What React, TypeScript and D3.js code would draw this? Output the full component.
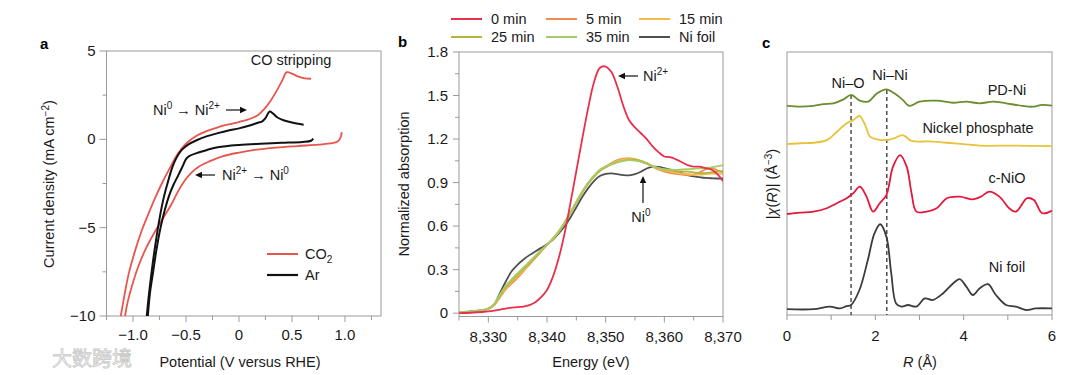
import React from "react";
import * as d3 from "d3";

// ---------------- Panel a: cyclic voltammetry ----------------
const co2Forward: [number, number][] = [
  [-1.115, -10], [-1.08, -8.8], [-1.04, -7.6], [-0.98, -6.3], [-0.92, -5.2], [-0.86, -4.3],
  [-0.79, -3.3], [-0.72, -2.4], [-0.65, -1.6], [-0.58, -0.85], [-0.5, -0.25], [-0.4, 0.2],
  [-0.3, 0.48], [-0.2, 0.68], [-0.1, 0.84], [0, 0.98], [0.1, 1.15], [0.18, 1.38], [0.24, 1.72],
  [0.3, 2.2], [0.36, 2.8], [0.41, 3.35], [0.45, 3.8], [0.5, 3.72], [0.56, 3.55], [0.62, 3.45], [0.68, 3.43],
];
const co2Reverse: [number, number][] = [
  [0.97, 0.4], [0.955, 0.05], [0.93, -0.12], [0.88, -0.22], [0.75, -0.3], [0.55, -0.38], [0.35, -0.47],
  [0.15, -0.6], [0.0, -0.75], [-0.15, -0.95], [-0.28, -1.25], [-0.38, -1.55], [-0.46, -1.95],
  [-0.52, -2.4], [-0.58, -3.0], [-0.64, -3.7], [-0.72, -4.5], [-0.8, -5.3], [-0.88, -6.2],
  [-0.95, -7.2], [-1.01, -8.3], [-1.05, -9.2], [-1.075, -10],
];
const arForward: [number, number][] = [
  [-0.87, -10], [-0.85, -8.8], [-0.82, -7.3], [-0.79, -6.0], [-0.75, -4.5], [-0.71, -3.3],
  [-0.67, -2.4], [-0.63, -1.6], [-0.59, -1.05], [-0.54, -0.6], [-0.48, -0.3], [-0.4, -0.05],
  [-0.3, 0.18], [-0.2, 0.35], [-0.1, 0.5], [0.0, 0.62], [0.1, 0.78], [0.18, 0.94], [0.22, 1.02],
  [0.25, 1.2], [0.29, 1.58], [0.32, 1.47], [0.36, 1.25], [0.42, 1.08], [0.5, 0.95], [0.61, 0.83],
];
const arReverse: [number, number][] = [
  [0.7, 0.05], [0.68, -0.08], [0.6, -0.15], [0.4, -0.2], [0.2, -0.25], [0.0, -0.32], [-0.2, -0.45],
  [-0.3, -0.6], [-0.4, -0.78], [-0.47, -0.95], [-0.5, -1.12], [-0.53, -1.5], [-0.57, -2.0],
  [-0.62, -2.6], [-0.66, -3.2], [-0.7, -4.0], [-0.74, -5.0], [-0.78, -6.3], [-0.81, -7.5],
  [-0.84, -8.7], [-0.86, -10],
];
const aXTicks = [-1.0, -0.5, 0, 0.5, 1.0];
const aXTickLabels = ["\u22121.0", "\u22120.5", "0", "0.5", "1.0"];
const aXMinor = [-1.25, -0.75, -0.25, 0.25, 0.75, 1.25];
const aYTicks = [5, 0, -5, -10];
const aYTickLabels = ["5", "0", "\u22125", "\u221210"];
const aYMinor = [2.5, -2.5, -7.5];

// ---------------- Panel b: XANES ----------------
const energy = [
  8325, 8327, 8329, 8330, 8331, 8332, 8333, 8334, 8335, 8336, 8337, 8338, 8339, 8340, 8341, 8342,
  8343, 8344, 8345, 8346, 8347, 8348, 8349, 8350, 8351, 8352, 8353, 8354, 8355, 8356, 8357, 8358,
  8359, 8360, 8361, 8362, 8363, 8364, 8365, 8366, 8367, 8368, 8369, 8370,
];
const min0 = [
  0.0, 0.003, 0.008, 0.012, 0.018, 0.025, 0.032, 0.038, 0.042, 0.045, 0.055, 0.075, 0.11, 0.16, 0.25, 0.38,
  0.55, 0.76, 0.98, 1.2, 1.41, 1.59, 1.69, 1.7, 1.66, 1.56, 1.43, 1.33, 1.28, 1.24, 1.2, 1.15,
  1.11, 1.08, 1.075, 1.06, 1.04, 1.02, 1.01, 1.01, 1.0, 0.99, 0.96, 0.91,
];
const min5 = [
  0.004, 0.01, 0.02, 0.03, 0.055, 0.11, 0.165, 0.205, 0.245, 0.29, 0.335, 0.38, 0.425, 0.47, 0.515, 0.565,
  0.625, 0.695, 0.765, 0.835, 0.895, 0.945, 0.985, 1.01, 1.035, 1.055, 1.065, 1.065, 1.055, 1.045, 1.03, 1.01,
  0.99, 0.975, 0.965, 0.96, 0.955, 0.95, 0.955, 0.97, 0.99, 1.0, 0.985, 0.97,
];
const min15 = [
  0.005, 0.01, 0.02, 0.03, 0.058, 0.115, 0.17, 0.215, 0.255, 0.295, 0.34, 0.382, 0.428, 0.47, 0.512, 0.562,
  0.622, 0.692, 0.762, 0.832, 0.892, 0.942, 0.982, 1.008, 1.03, 1.048, 1.06, 1.068, 1.062, 1.05, 1.032, 1.012,
  0.995, 0.982, 0.975, 0.968, 0.962, 0.958, 0.955, 0.955, 0.958, 0.962, 0.962, 0.96,
];
const min25 = [
  0.005, 0.01, 0.02, 0.03, 0.06, 0.12, 0.18, 0.225, 0.265, 0.305, 0.345, 0.385, 0.43, 0.47, 0.51, 0.56,
  0.62, 0.69, 0.76, 0.83, 0.89, 0.94, 0.98, 1.005, 1.025, 1.04, 1.05, 1.06, 1.06, 1.05, 1.035, 1.015,
  1.0, 0.99, 0.985, 0.98, 0.975, 0.975, 0.97, 0.965, 0.965, 0.97, 0.975, 0.98,
];
const min35 = [
  0.006, 0.011, 0.022, 0.033, 0.065, 0.13, 0.19, 0.235, 0.275, 0.315, 0.355, 0.395, 0.435, 0.472, 0.512, 0.562,
  0.625, 0.695, 0.768, 0.838, 0.898, 0.948, 0.988, 1.012, 1.03, 1.042, 1.05, 1.055, 1.052, 1.045, 1.03, 1.012,
  1.0, 0.992, 0.99, 0.988, 0.99, 0.992, 0.995, 0.998, 1.0, 1.005, 1.012, 1.02,
];
const niFoilXanes = [
  0.008, 0.012, 0.02, 0.03, 0.06, 0.14, 0.22, 0.29, 0.335, 0.37, 0.4, 0.425, 0.45, 0.475, 0.505, 0.55,
  0.6, 0.66, 0.73, 0.8, 0.86, 0.91, 0.945, 0.96, 0.963, 0.958, 0.952, 0.95, 0.958, 0.975, 0.997, 1.008,
  1.008, 1.0, 0.99, 0.978, 0.965, 0.952, 0.943, 0.937, 0.932, 0.93, 0.928, 0.928,
];
const bSeriesNames = ["0 min", "5 min", "15 min", "25 min", "35 min", "Ni foil"];
const bSeriesValues = [min0, min5, min15, min25, min35, niFoilXanes];
const bColors = ["#e8304a", "#f08a4e", "#f4bb4c", "#b5b53e", "#a6cb68", "#4f4f4f"];
const bXTicks = [8330, 8340, 8350, 8360, 8370];
const bXTickLabels = ["8,330", "8,340", "8,350", "8,360", "8,370"];
const bXMinor = [8325, 8335, 8345, 8355, 8365];
const bYTicks = [0, 0.3, 0.6, 0.9, 1.2, 1.5, 1.8];
const bYTickLabels = ["0", "0.3", "0.6", "0.9", "1.2", "1.5", "1.8"];
const bYMinor = [0.15, 0.45, 0.75, 1.05, 1.35, 1.65];

// ---------------- Panel c: EXAFS (offset stacked) ----------------
const pdNi: [number, number][] = [
  [0, 7.95], [0.3, 7.92], [0.6, 7.95], [0.83, 8.02], [1.05, 8.05], [1.28, 8.2], [1.45, 8.37],
  [1.65, 8.15], [1.83, 8.11], [2.04, 8.43], [2.25, 8.58], [2.43, 8.43], [2.62, 8.18], [2.77, 7.95],
  [3.0, 8.11], [3.39, 8.15], [3.76, 8.07], [4.06, 8.11], [4.36, 8.05], [4.66, 8.11], [4.96, 8.05],
  [5.33, 7.95], [5.56, 7.92], [5.78, 7.99], [6.0, 7.96],
];
const nickelPhosphate: [number, number][] = [
  [0, 6.5], [0.3, 6.53], [0.6, 6.55], [0.9, 6.65], [1.13, 6.97], [1.35, 7.29], [1.5, 7.41],
  [1.64, 7.57], [1.77, 7.22], [1.88, 6.78], [2.04, 6.68], [2.25, 6.65], [2.43, 6.72], [2.62, 6.84],
  [2.82, 6.62], [3.23, 6.6], [3.62, 6.55], [3.99, 6.5], [4.36, 6.44], [5.1, 6.44], [6.0, 6.42],
];
const cNiO: [number, number][] = [
  [0, 3.84], [0.3, 3.89], [0.6, 3.93], [0.9, 4.06], [1.13, 4.25], [1.35, 4.44], [1.5, 4.63],
  [1.65, 4.88], [1.8, 4.5], [1.95, 3.93], [2.1, 4.25], [2.25, 4.56], [2.4, 5.64], [2.56, 6.08],
  [2.71, 5.64], [2.82, 4.63], [2.93, 3.93], [3.16, 3.93], [3.39, 4.06], [3.62, 4.44], [3.91, 4.5],
  [4.21, 4.4], [4.39, 4.5], [4.58, 4.69], [4.81, 4.5], [5.03, 4.06], [5.18, 3.93], [5.44, 4.44],
  [5.59, 4.37], [5.78, 3.87], [6.0, 3.97],
];
const niFoilExafs: [number, number][] = [
  [0, 0.22], [0.6, 0.22], [0.97, 0.32], [1.2, 0.25], [1.35, 0.34], [1.45, 0.38], [1.64, 0.95],
  [1.83, 2.09], [1.98, 3.1], [2.11, 3.45], [2.25, 2.98], [2.36, 1.59], [2.47, 0.44], [2.59, 0.32],
  [2.74, 0.38], [2.93, 0.32], [3.12, 0.63], [3.3, 0.57], [3.53, 0.82], [3.76, 1.2], [3.91, 1.36],
  [4.06, 1.08], [4.21, 0.76], [4.36, 1.01], [4.55, 1.17], [4.73, 0.76], [4.96, 0.38], [5.18, 0.32],
  [5.41, 0.19], [5.63, 0.25], [6.0, 0.25],
];
const cSeries = [pdNi, nickelPhosphate, cNiO, niFoilExafs];
const cColors = ["#6a8d2e", "#e8c23a", "#e3183c", "#3c3c3c"];
const cLabels = ["PD-Ni", "Nickel phosphate", "c-NiO", "Ni foil"];
const cXTicks = [0, 1, 2, 3, 4, 5, 6];
const cXTickLabels = ["0", "", "2", "", "4", "", "6"];
const cDashR = [1.45, 2.26];

// ---------------- helpers ----------------
const FONT = "'Liberation Sans', Arial, Helvetica, sans-serif";
const AXIS = "#9a9a9a";
const TXT = "#1a1a1a";
const TICK_FS = 15;
const LAB_FS = 14.5;

function Arrow({ x1, y1, x2, y2 }: { x1: number; y1: number; x2: number; y2: number }) {
  // arrow head at (x2, y2)
  const ang = Math.atan2(y2 - y1, x2 - x1);
  const L = 7, W = 3.2;
  const bx = x2 - L * Math.cos(ang), by = y2 - L * Math.sin(ang);
  const px = -Math.sin(ang) * W, py = Math.cos(ang) * W;
  return (
    <g>
      <line x1={x1} y1={y1} x2={bx} y2={by} stroke="#111" strokeWidth={1.2} />
      <polygon points={`${x2},${y2} ${bx + px},${by + py} ${bx - px},${by - py}`} fill="#111" />
    </g>
  );
}

export default function App() {
  // Panel a scales
  const ax = d3.scaleLinear().domain([-1.25, 1.34]).range([106.5, 381]);
  const ay = d3.scaleLinear().domain([-10, 5]).range([316, 51]);
  const aLine = d3.line<[number, number]>().x((d) => ax(d[0])).y((d) => ay(d[1])).curve(d3.curveCatmullRom.alpha(0.5));

  // Panel b scales
  const bx = d3.scaleLinear().domain([8325, 8370]).range([459, 723]);
  const by = d3.scaleLinear().domain([-0.023, 1.8]).range([316.5, 52]);
  const bLine = d3.line<number>().x((_, i) => bx(energy[i])).y((d) => by(d)).curve(d3.curveCatmullRom.alpha(0.5));

  // Panel c scales
  const cx = d3.scaleLinear().domain([0, 6]).range([787, 1052]);
  const cy = d3.scaleLinear().domain([0, 10]).range([315, 52]);
  const cLine = d3.line<[number, number]>().x((d) => cx(d[0])).y((d) => cy(d[1])).curve(d3.curveCatmullRom.alpha(0.5));

  const bOrder = [5, 1, 2, 3, 4, 0];

  return (
    <svg width={1080} height={375} style={{ position: "absolute", left: 0, top: 0, background: "#fff" }} fontFamily={FONT}>
      <rect x={0} y={0} width={1080} height={375} fill="#fff" />

      {/* ============ Panel a ============ */}
      <text x={40} y={49} fontSize={15} fontWeight="bold" fill="#000">a</text>
      <rect x={ax.range()[0]} y={ay.range()[1]} width={ax.range()[1] - ax.range()[0]} height={ay.range()[0] - ay.range()[1]} fill="none" stroke={AXIS} strokeWidth={1} />
      {aYTicks.map((t, i) => (
        <g key={"ay" + t}>
          <line x1={ax.range()[0] - 7} x2={ax.range()[0]} y1={ay(t)} y2={ay(t)} stroke={AXIS} />
          <text x={ax.range()[0] - 11} y={ay(t) + 5} fontSize={TICK_FS} fill={TXT} textAnchor="end">{aYTickLabels[i]}</text>
        </g>
      ))}
      {aYMinor.map((t) => (
        <line key={"aym" + t} x1={ax.range()[0] - 4} x2={ax.range()[0]} y1={ay(t)} y2={ay(t)} stroke={AXIS} />
      ))}
      {aXTicks.map((t, i) => (
        <g key={"ax" + t}>
          <line x1={ax(t)} x2={ax(t)} y1={ay.range()[0]} y2={ay.range()[0] + 6} stroke={AXIS} />
          <text x={ax(t)} y={340} fontSize={TICK_FS} fill={TXT} textAnchor="middle">{aXTickLabels[i]}</text>
        </g>
      ))}
      {aXMinor.map((t) => (
        <line key={"axm" + t} x1={ax(t)} x2={ax(t)} y1={ay.range()[0]} y2={ay.range()[0] + 4} stroke={AXIS} />
      ))}
      <text x={240} y={367} fontSize={LAB_FS} fill={TXT} textAnchor="middle">Potential (V versus RHE)</text>
      <text transform="translate(54,184) rotate(-90)" fontSize={LAB_FS} fill={TXT} textAnchor="middle">
        Current density (mA cm<tspan dy={-5} fontSize={10}>{"\u22122"}</tspan><tspan dy={5}>)</tspan>
      </text>
      <path d={aLine(co2Forward) || ""} fill="none" stroke="#e8554c" strokeWidth={1.8} />
      <path d={aLine(co2Reverse) || ""} fill="none" stroke="#e8554c" strokeWidth={1.8} />
      <path d={aLine(arForward) || ""} fill="none" stroke="#111" strokeWidth={2} />
      <path d={aLine(arReverse) || ""} fill="none" stroke="#111" strokeWidth={2} />
      <text x={291} y={65} fontSize={LAB_FS} fill={TXT} textAnchor="middle">CO stripping</text>
      <text x={153} y={115} fontSize={LAB_FS} fill={TXT}>
        Ni<tspan dy={-6} fontSize={10}>0</tspan><tspan dy={6}>{" \u2192 Ni"}</tspan><tspan dy={-6} fontSize={10}>2+</tspan>
      </text>
      <Arrow x1={226} y1={110} x2={247} y2={110} />
      <Arrow x1={215} y1={175} x2={195} y2={175} />
      <text x={222} y={180} fontSize={LAB_FS} fill={TXT}>
        Ni<tspan dy={-6} fontSize={10}>2+</tspan><tspan dy={6}>{" \u2192 Ni"}</tspan><tspan dy={-6} fontSize={10}>0</tspan>
      </text>
      <line x1={267} x2={298} y1={254} y2={254} stroke="#e8554c" strokeWidth={2} />
      <text x={305} y={259} fontSize={LAB_FS} fill={TXT}>
        CO<tspan dy={4} fontSize={10}>2</tspan>
      </text>
      <line x1={267} x2={298} y1={275} y2={275} stroke="#111" strokeWidth={2.2} />
      <text x={305} y={280} fontSize={LAB_FS} fill={TXT}>Ar</text>

      {/* ============ Panel b ============ */}
      <text x={398} y={47} fontSize={15} fontWeight="bold" fill="#000">b</text>
      {bSeriesNames.map((n, i) => {
        const col = i % 3, row = Math.floor(i / 3);
        const lx = [451, 546, 639][col];
        const ly = [19, 37][row];
        return (
          <g key={"leg" + n}>
            <line x1={lx} x2={lx + 31} y1={ly} y2={ly} stroke={bColors[i]} strokeWidth={2} />
            <text x={lx + 40} y={ly + 5} fontSize={LAB_FS} fill={TXT}>{n}</text>
          </g>
        );
      })}
      <rect x={bx.range()[0]} y={by.range()[1]} width={bx.range()[1] - bx.range()[0]} height={by.range()[0] - by.range()[1]} fill="none" stroke={AXIS} strokeWidth={1} />
      {bYTicks.map((t, i) => (
        <g key={"by" + t}>
          <line x1={bx.range()[0] - 6} x2={bx.range()[0]} y1={by(t)} y2={by(t)} stroke={AXIS} />
          <text x={bx.range()[0] - 11} y={by(t) + 5} fontSize={TICK_FS} fill={TXT} textAnchor="end">{bYTickLabels[i]}</text>
        </g>
      ))}
      {bYMinor.map((t) => (
        <line key={"bym" + t} x1={bx.range()[0] - 4} x2={bx.range()[0]} y1={by(t)} y2={by(t)} stroke={AXIS} />
      ))}
      {bXTicks.map((t, i) => (
        <g key={"bx" + t}>
          <line x1={bx(t)} x2={bx(t)} y1={by.range()[0]} y2={by.range()[0] + 6} stroke={AXIS} />
          <text x={bx(t)} y={342} fontSize={TICK_FS} fill={TXT} textAnchor="middle">{bXTickLabels[i]}</text>
        </g>
      ))}
      {bXMinor.map((t) => (
        <line key={"bxm" + t} x1={bx(t)} x2={bx(t)} y1={by.range()[0]} y2={by.range()[0] + 4} stroke={AXIS} />
      ))}
      <text x={591} y={367} fontSize={LAB_FS} fill={TXT} textAnchor="middle">Energy (eV)</text>
      <text transform="translate(409,184) rotate(-90)" fontSize={LAB_FS} fill={TXT} textAnchor="middle">Normalized absorption</text>
      <defs>
        <clipPath id="clipB">
          <rect x={bx.range()[0]} y={by.range()[1]} width={bx.range()[1] - bx.range()[0]} height={by.range()[0] - by.range()[1]} />
        </clipPath>
      </defs>
      <g clipPath="url(#clipB)">
        {bOrder.map((i) => (
          <path key={"bs" + i} d={bLine(bSeriesValues[i]) || ""} fill="none" stroke={bColors[i]} strokeWidth={1.8} />
        ))}
      </g>
      <Arrow x1={638} y1={76} x2={618} y2={76} />
      <text x={643} y={81} fontSize={LAB_FS} fill={TXT}>
        Ni<tspan dy={-6} fontSize={10}>2+</tspan>
      </text>
      <Arrow x1={643} y1={203} x2={643} y2={176} />
      <text x={641} y={222} fontSize={LAB_FS} fill={TXT} textAnchor="middle">
        Ni<tspan dy={-6} fontSize={10}>0</tspan>
      </text>

      {/* ============ Panel c ============ */}
      <text x={762} y={48} fontSize={15} fontWeight="bold" fill="#000">c</text>
      <rect x={cx.range()[0]} y={cy.range()[1]} width={cx.range()[1] - cx.range()[0]} height={cy.range()[0] - cy.range()[1]} fill="none" stroke={AXIS} strokeWidth={1} />
      {cXTicks.map((t, i) => (
        <g key={"cx" + t}>
          <line x1={cx(t)} x2={cx(t)} y1={cy.range()[0]} y2={cy.range()[0] + 5} stroke={AXIS} />
          {cXTickLabels[i] && (
            <text x={cx(t)} y={341} fontSize={TICK_FS} fill={TXT} textAnchor="middle">{cXTickLabels[i]}</text>
          )}
        </g>
      ))}
      <text x={920} y={367} fontSize={LAB_FS} fill={TXT} textAnchor="middle">
        <tspan fontStyle="italic">R</tspan> (Å)
      </text>
      <text transform="translate(777,184) rotate(-90)" fontSize={LAB_FS} fill={TXT} textAnchor="middle">
        |<tspan fontStyle="italic">χ</tspan>(<tspan fontStyle="italic">R</tspan>)| (Å<tspan dy={-5} fontSize={10}>{"\u22123"}</tspan><tspan dy={5}>)</tspan>
      </text>
      {cDashR.map((r, i) => (
        <line key={"dash" + r} x1={cx(r)} x2={cx(r)} y1={i === 0 ? 95 : 90} y2={cy.range()[0]} stroke="#222" strokeWidth={1.2} strokeDasharray="4,3" />
      ))}
      {cSeries.map((s, i) => (
        <path key={"cs" + i} d={cLine(s) || ""} fill="none" stroke={cColors[i]} strokeWidth={1.8} />
      ))}
      <text x={848} y={88} fontSize={LAB_FS} fill={TXT} textAnchor="middle">Ni–O</text>
      <text x={890} y={80} fontSize={LAB_FS} fill={TXT} textAnchor="middle">Ni–Ni</text>
      <text x={1007} y={95} fontSize={LAB_FS} fill={TXT} textAnchor="middle">{cLabels[0]}</text>
      <text x={978} y={133} fontSize={LAB_FS} fill={TXT} textAnchor="middle">{cLabels[1]}</text>
      <text x={1007} y={183} fontSize={LAB_FS} fill={TXT} textAnchor="middle">{cLabels[2]}</text>
      <text x={1007} y={272} fontSize={LAB_FS} fill={TXT} textAnchor="middle">{cLabels[3]}</text>

      {/* watermark */}
      <text x={52} y={366} fontSize={20} fontFamily="'Noto Sans CJK SC', sans-serif" fill="#f6f6f6" stroke="#c9c9c9" strokeWidth={0.8}>大数跨境</text>
    </svg>
  );
}
